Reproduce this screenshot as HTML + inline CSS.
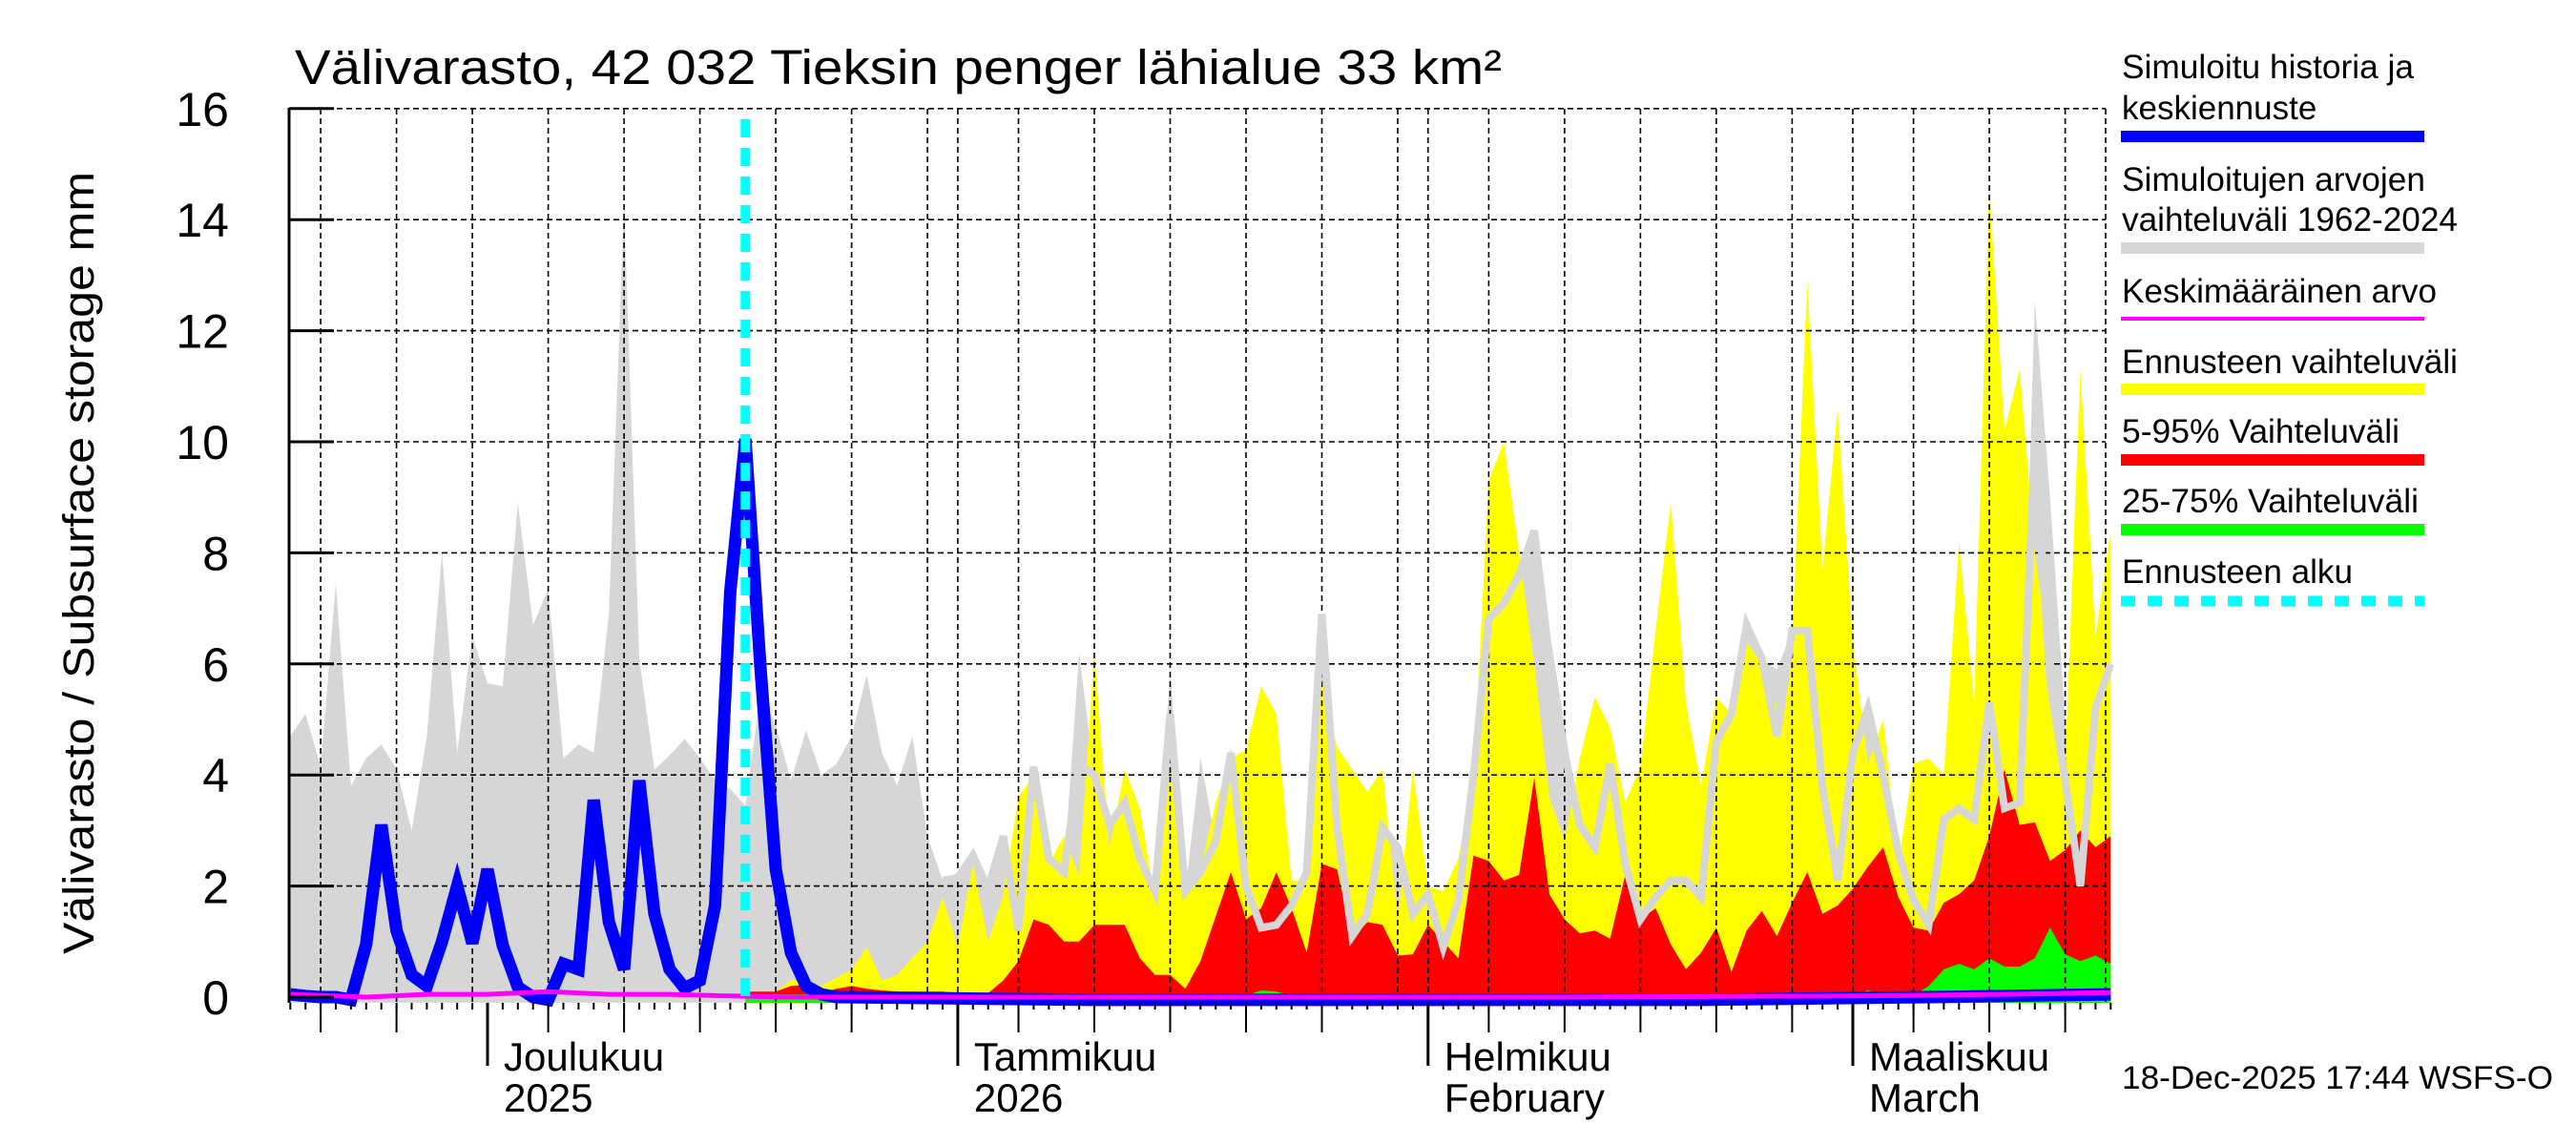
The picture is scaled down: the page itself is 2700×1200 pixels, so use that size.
<!DOCTYPE html>
<html><head><meta charset="utf-8">
<style>
html,body{margin:0;padding:0;background:#fff;}
svg{display:block;font-family:"Liberation Sans",sans-serif;}
</style></head>
<body>
<svg id="chart" width="2700" height="1200" viewBox="0 0 2700 1200" xmlns="http://www.w3.org/2000/svg">
<rect x="0" y="0" width="2700" height="1200" fill="#fff"/>
<g id="plot"></g>
<text x="309" y="88" font-size="51" textLength="1265" lengthAdjust="spacingAndGlyphs">Välivarasto, 42 032 Tieksin penger lähialue 33 km²</text>
<text transform="translate(98,590) rotate(-90)" text-anchor="middle" font-size="45" textLength="820" lengthAdjust="spacingAndGlyphs">Välivarasto / Subsurface storage  mm</text>
<g font-size="35">
  <text x="2224" y="82" textLength="306" lengthAdjust="spacingAndGlyphs">Simuloitu historia ja</text>
  <text x="2224" y="125">keskiennuste</text>
  <rect x="2223" y="137" width="318" height="12" fill="#0000ff"/>
  <text x="2224" y="200" textLength="318" lengthAdjust="spacingAndGlyphs">Simuloitujen arvojen</text>
  <text x="2224" y="242" textLength="352" lengthAdjust="spacingAndGlyphs">vaihteluväli 1962-2024</text>
  <rect x="2223" y="254" width="318" height="12" fill="#d6d6d6"/>
  <text x="2224" y="317" textLength="330" lengthAdjust="spacingAndGlyphs">Keskimääräinen arvo</text>
  <rect x="2223" y="332" width="318" height="4" fill="#ff00ff"/>
  <text x="2224" y="391" textLength="352" lengthAdjust="spacingAndGlyphs">Ennusteen vaihteluväli</text>
  <rect x="2223" y="402" width="318" height="12" fill="#ffff00"/>
  <text x="2224" y="464" textLength="291" lengthAdjust="spacingAndGlyphs">5-95% Vaihteluväli</text>
  <rect x="2223" y="476" width="318" height="12" fill="#ff0000"/>
  <text x="2224" y="537" textLength="311" lengthAdjust="spacingAndGlyphs">25-75% Vaihteluväli</text>
  <rect x="2223" y="549" width="318" height="12" fill="#00ff00"/>
  <text x="2224" y="611" textLength="242" lengthAdjust="spacingAndGlyphs">Ennusteen alku</text>
  <line x1="2223" y1="630" x2="2541" y2="630" stroke="#00ffff" stroke-width="11" stroke-dasharray="15 13"/>
</g>
<text x="2224" y="1141" font-size="34" textLength="452" lengthAdjust="spacingAndGlyphs">18-Dec-2025 17:44 WSFS-O</text>
</svg>
<script>
// ---- data (days counted from 1 Dec 2025) ----
const startDay = -13;
const grayMaxVals = [4.7,5.1,4.15,7.45,3.8,4.3,4.55,4.1,3.0,4.7,8.0,4.4,6.5,5.65,5.6,8.9,6.7,7.35,4.3,4.55,4.4,6.9,14.3,6.1,4.1,4.35,4.65,4.3,3.9,3.75,
 3.45,5.5,4.9,3.9,4.8,4.0,4.2,4.7,5.8,4.4,3.8,4.7,2.9,
 2.1,2.2,2.55,1.95,2.9,2.0,4.2,2.5,2.3,6.2,4.0,3.1,3.5,2.5,1.9,5.9,1.9,4.3,2.8,4.5,2.0,1.25,1.3,1.65,2.25,6.9,3.05,1.1,1.5,3.05,2.7,
 1.5,1.85,0.9,1.75,4.0,6.8,7.1,7.6,8.4,6.6,4.9,3.1,2.7,4.2,2.4,1.4,1.8,2.1,2.1,1.8,4.6,5.1,6.7,6.1,5.9,6.6,6.6,3.8,2.1,4.4,5.2,4.0,2.6,1.75,1.3,3.2,3.4,3.2,5.3,3.4,3.5,12.55,9.0,5.0,2.0,5.2,6.0];
const fcstStart = 17;
const yellowVals = [0.1,0.1,0.1,0.3,0.3,
 0.2,0.35,0.5,0.9,0.3,0.4,0.7,1.0,1.8,0.9,2.4,1.0,1.85,3.6,4.0,2.4,2.9,2.2,6.2,2.7,4.1,3.4,1.75,4.1,1.85,2.3,3.5,4.3,4.45,5.6,5.1,2.1,2.1,5.7,4.5,4.1,3.7,4.1,1.4,
 4.1,2.0,1.9,2.5,4.0,9.3,10.0,8.0,6.0,3.6,2.8,4.3,5.4,4.85,3.5,4.15,6.6,8.9,5.3,3.8,5.4,5.1,6.4,6.0,5.2,6.4,12.9,7.7,10.6,6.4,4.2,5.0,2.4,4.2,4.3,4.0,8.2,5.3,14.6,10.2,11.3,8.0,6.0,4.2,11.3,6.5,8.4];
const redVals = [0.1,0.1,0.1,0.2,0.22,
 0.07,0.15,0.2,0.15,0.12,0.1,0.1,0.1,0.1,0.07,0.07,0.07,0.3,0.65,1.4,1.3,1.0,1.0,1.3,1.3,1.3,0.7,0.4,0.4,0.15,0.65,1.45,2.25,1.4,1.6,2.25,1.6,0.8,2.4,2.3,1.05,1.35,1.3,0.75,
 0.77,1.3,1.0,0.7,2.55,2.45,2.1,2.2,3.95,1.85,1.4,1.15,1.2,1.05,2.2,1.4,1.6,0.95,0.5,0.8,1.25,0.45,1.2,1.55,1.1,1.7,2.25,1.5,1.65,1.95,2.35,2.7,1.8,1.25,1.2,1.7,1.85,2.1,2.9,4.1,3.1,3.15,2.45,2.65,3.0,2.7,2.9];
const greenVals = [0.05,0.05,0.05,0.05,0.05,
 0.03,0.03,0.03,0.03,0.03,0.03,0.03,0.03,0.03,0.03,
 0.03,0.03,0.03,0.03,0.03,0.03,0.03,0.03,0.03,0.03,
 0.03,0.03,0.03,0.03,0.03,0.03,0.03,0.03,0.03,0.12,
 0.1,0.03,0.03,0.03,0.03,0.03,0.03,0.03,0.03,0.03,
 0.03,0.03,0.03,0.03,0.03,0.03,0.03,0.03,0.03,0.03,
 0.03,0.03,0.03,0.03,0.03,0.03,0.03,0.03,0.03,0.03,
 0.03,0.03,0.03,0.03,0.03,0.08,0.03,0.03,0.03,0.12,
 0.03,0.03,0.03,
 0.2,0.5,0.6,0.5,0.7,0.55,0.55,0.7,1.25,0.77,0.65,0.75,0.6];
const grayLineStart = 30;
const grayLineVals = [2.1,2.15,2.55,1.95,2.9,1.2,4.15,2.5,2.25,4.2,4.0,3.1,3.5,2.5,1.9,5.1,1.9,2.25,2.8,4.4,2.0,1.25,1.3,1.65,2.25,6.9,3.05,1.1,1.5,3.05,2.7,
 1.5,1.85,0.9,1.75,4.0,6.8,7.1,7.6,8.4,6.1,4.4,3.1,2.7,4.2,2.4,1.4,1.8,2.1,2.1,1.8,4.6,5.1,6.7,6.1,4.7,6.6,6.6,3.8,2.1,4.4,5.2,4.0,2.6,1.75,1.3,3.2,3.4,3.2,5.3,3.4,3.5,10.0,5.7,3.9,2.0,5.2,6.0];
const blueHistVals = [0.05,0.02,0,0,-0.05,0.95,3.1,1.2,0.4,0.2,1.0,2.0,0.97,2.3,0.93,0.18,0,-0.05,0.6,0.5,3.55,1.35,0.5,3.9,1.5,0.5,0.16,0.3,1.65,7.3,10.05,5.9,2.3,0.8,0.2,0.05];
const blueFcstDays = [23,40,60,80,95,100,107];
const blueFcstVals = [0.0,-0.05,-0.05,-0.05,0.0,0.02,0.05];
const meanDays = [-13,-8,-4,0,4,8,12,16,20,30,50,70,90,100,107];
const meanVals = [0.05,0.0,0.05,0.05,0.1,0.05,0.05,0.02,0.0,0.0,0.0,0.0,0.02,0.05,0.08];
const yTicks = [0,2,4,6,8,10,12,14,16];
const monthDays = [0,31,62,90];
const monthLabels1 = ["Joulukuu","Tammikuu","Helmikuu","Maaliskuu"];
const monthLabels2 = ["2025","2026","February","March"];
const gridDays = [-11,-6,-1,4,9,14,19,24,29,35,40,45,50,55,60,66,71,76,81,86,94,99,104];
const longTickDays = [-11,-6,4,9,14,19,24,35,40,45,50,55,66,71,76,81,86,94,99,104];
const endDay = 107;

// ---- axes ----
const X0 = 511, DX = 15.9, Y0 = 1045, DY = 58.2;
const PL = 303, PR = 2207, PT = 114, PB = 1051;
function xs(d){ return X0 + d*DX; }
function ys(v){ return Y0 - v*DY; }
const NS = "http://www.w3.org/2000/svg";
const plot = document.getElementById('plot');
function mk(tag, attrs, parent){
  const e = document.createElementNS(NS, tag);
  for (const k in attrs) e.setAttribute(k, attrs[k]);
  (parent||plot).appendChild(e);
  return e;
}
function areaPath(d0, vals, base){
  let p = '';
  vals.forEach((v,i)=>{ p += (i?'L':'M') + xs(d0+i).toFixed(1) + ',' + ys(v).toFixed(1); });
  p += 'L' + xs(d0+vals.length-1).toFixed(1) + ',' + ys(base) + 'L' + xs(d0).toFixed(1) + ',' + ys(base) + 'Z';
  return p;
}
function linePts(days, vals){ return days.map((d,i)=>xs(d).toFixed(1)+','+ys(vals[i]).toFixed(1)).join(' '); }
function seq(d0, n){ const a=[]; for(let i=0;i<n;i++) a.push(d0+i); return a; }

let el;
el = mk('path', {d: areaPath(startDay, grayMaxVals, -0.1), fill:'#d6d6d6'});


el = mk('path', {d: areaPath(fcstStart, yellowVals, -0.1), fill:'#ffff00'});


el = mk('path', {d: areaPath(fcstStart, redVals, -0.1), fill:'#ff0000'});


el = mk('path', {d: areaPath(fcstStart, greenVals, -0.1), fill:'#00ff00'});



yTicks.forEach(v=>{
  if (v===0) return;
  const g = mk('line', {x1:PL, x2:PR, y1:ys(v), y2:ys(v), stroke:'#000', 'stroke-width':1.6, 'stroke-dasharray':'6 4'});
  
  
});
gridDays.concat([31,62,90]).forEach(d=>{
  const g = mk('line', {x1:xs(d), x2:xs(d), y1:PT, y2:PB, stroke:'#000', 'stroke-width':1.6, 'stroke-dasharray':'6 4'});
  
  
});
el = mk('line', {x1:PR, x2:PR, y1:PT, y2:PB, stroke:'#000', 'stroke-width':1.6, 'stroke-dasharray':'6 4'});



el = mk('polyline', {points: linePts(seq(grayLineStart, grayLineVals.length), grayLineVals), fill:'none', stroke:'#d6d6d6', 'stroke-width':8, 'stroke-linejoin':'miter'});


el = mk('polyline', {points: linePts(seq(startDay, blueHistVals.length), blueHistVals) + ' ' + linePts(blueFcstDays, blueFcstVals), fill:'none', stroke:'#0000ff', 'stroke-width':13, 'stroke-linejoin':'miter'});


el = mk('polyline', {points: linePts(meanDays, meanVals), fill:'none', stroke:'#ff00ff', 'stroke-width':5});


el = mk('line', {x1:xs(fcstStart), x2:xs(fcstStart), y1:125, y2:PB, stroke:'#00ffff', 'stroke-width':10, 'stroke-dasharray':'19 11'});



el = mk('line', {x1:PL, x2:PL, y1:PT-1, y2:PB, stroke:'#000', 'stroke-width':3});


yTicks.forEach(v=>{
  const t = mk('line', {x1:PL, x2:PL+47, y1:ys(v), y2:ys(v), stroke:'#000', 'stroke-width':3});
  
  
  const l = mk('text', {x:240, y:ys(v)+18, 'text-anchor':'end', 'font-size':50});
  l.textContent = String(v);
  
  
});

for (let d=startDay; d<=endDay; d++){
  const t = mk('line', {x1:xs(d), x2:xs(d), y1:PB, y2:PB+7, stroke:'#000', 'stroke-width':2});
  
  
}
longTickDays.forEach(d=>{
  const t = mk('line', {x1:xs(d), x2:xs(d), y1:PB, y2:1082, stroke:'#000', 'stroke-width':2});
  
  
});
monthDays.forEach((d,i)=>{
  const t = mk('line', {x1:xs(d), x2:xs(d), y1:PB, y2:1117, stroke:'#000', 'stroke-width':3});
  
  
  const a = mk('text', {x:xs(d)+17, y:1122, 'font-size':42});
  a.textContent = monthLabels1[i];
  
  
  const b = mk('text', {x:xs(d)+17, y:1165, 'font-size':42});
  b.textContent = monthLabels2[i];
  
  
});
</script>
</body></html>
